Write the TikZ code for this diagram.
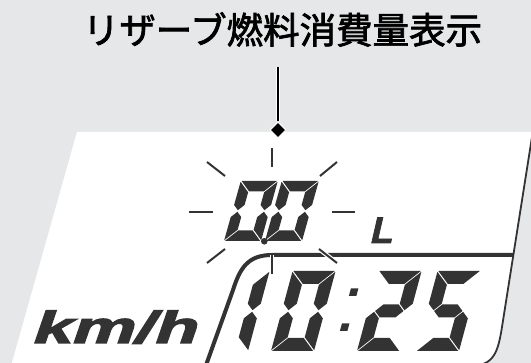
\documentclass[tikz,border=0pt]{standalone}
\usepackage{fontspec}
\usetikzlibrary{shapes.geometric}
\newfontfamily\cjkfont{Noto Sans CJK JP}[FakeBold=2]
\newfontfamily\kmhfont{Liberation Sans}[FakeSlant=0.22,FakeBold=2.5]
\newfontfamily\litfont{Liberation Sans}[FakeSlant=0.23,FakeBold=2]
\definecolor{bg}{HTML}{E6E7E8}
\definecolor{ink}{HTML}{333333}
\def\dgG{0.8}
\def\segA{\fill[ink] (\dgG,-\dgH) -- ({\dgW-\dgG},-\dgH) -- ({\dgW-\dgT-\dgG},{-\dgH+\dgT}) -- ({\dgT+\dgG},{-\dgH+\dgT}) -- cycle;}
\def\segB{\fill[ink] (\dgW,{-(\dgH-\dgG)}) -- ({\dgW-\dgT},{-(\dgH-\dgT-\dgG)}) -- ({\dgW-\dgT},{-(\dgH/2+\dgT/2+\dgG)}) -- ({\dgW-\dgT/2},{-(\dgH/2+\dgG)}) -- (\dgW,{-(\dgH/2+\dgT/2+\dgG)}) -- cycle;}
\def\segC{\fill[ink] (\dgW,{-\dgG}) -- ({\dgW-\dgT},{-(\dgT+\dgG)}) -- ({\dgW-\dgT},{-(\dgH/2-\dgT/2-\dgG)}) -- ({\dgW-\dgT/2},{-(\dgH/2-\dgG)}) -- (\dgW,{-(\dgH/2-\dgT/2-\dgG)}) -- cycle;}
\def\segD{\fill[ink] (\dgG,0) -- ({\dgW-\dgG},0) -- ({\dgW-\dgT-\dgG},{-\dgT}) -- ({\dgT+\dgG},{-\dgT}) -- cycle;}
\def\segE{\fill[ink] (0,{-\dgG}) -- (\dgT,{-(\dgT+\dgG)}) -- (\dgT,{-(\dgH/2-\dgT/2-\dgG)}) -- ({\dgT/2},{-(\dgH/2-\dgG)}) -- (0,{-(\dgH/2-\dgT/2-\dgG)}) -- cycle;}
\def\segF{\fill[ink] (0,{-(\dgH-\dgG)}) -- (\dgT,{-(\dgH-\dgT-\dgG)}) -- (\dgT,{-(\dgH/2+\dgT/2+\dgG)}) -- ({\dgT/2},{-(\dgH/2+\dgG)}) -- (0,{-(\dgH/2+\dgT/2+\dgG)}) -- cycle;}
\def\segG{\fill[ink] ({\dgT/2+\dgG},{-\dgH/2}) -- ({\dgT+\dgG},{-(\dgH/2+\dgT/2)}) -- ({\dgW-\dgT-\dgG},{-(\dgH/2+\dgT/2)}) -- ({\dgW-\dgT/2-\dgG},{-\dgH/2}) -- ({\dgW-\dgT-\dgG},{-(\dgH/2-\dgT/2)}) -- ({\dgT+\dgG},{-(\dgH/2-\dgT/2)}) -- cycle;}
% bx by W H t slant segments
\newcommand\sevenseg[7]{%
  \begin{scope}[shift={(#1,#2)}, xslant=#6]
    \def\dgW{#3}\def\dgH{#4}\def\dgT{#5}%
    \foreach \sgname in {#7}{\csname seg\sgname\endcsname}
  \end{scope}}
\tikzset{
  rayhalo/.style={white, line width=4.4pt},
  ray/.style={ink, line width=2pt},
  panelline/.style={ink, line width=4pt},
  edgeline/.style={ink, line width=1.8pt},
}
\begin{document}
\begin{tikzpicture}[x=1pt,y=-1pt]
\useasboundingbox (0,0) rectangle (531,363);
\fill[bg] (0,0) rectangle (531,363);
\begin{scope}
  \clip (0,0) rectangle (531,363);
  % display panel
  \fill[white] (77,132) -- (533.1,132) -- (502,327) .. controls (498,352) and (494,366) .. (470,366) -- (11,366) -- cycle;
  \draw[edgeline] (533.1,130) -- (502,327) .. controls (498,352) and (494,366) .. (470,366) -- (440,366);
  \draw[panelline] (205,368) -- (233,290) .. controls (240,268) and (248,255) .. (272,255) -- (513.5,255);
\end{scope}
% small digits 0.0
\sevenseg{224}{241}{37}{60}{10.5}{0.28}{A,B,C,D,E,F}
\sevenseg{265}{241}{37}{60}{10.5}{0.28}{A,B,C,D,E,F}
\fill[ink] (264.3,241.3) circle (3.3);
% big digits 10:25
\sevenseg{205}{351}{43}{80}{13}{0.27}{B,C}
\sevenseg{271}{351}{43}{80}{13}{0.27}{A,B,C,D,E,F}
\sevenseg{357}{351}{43}{80}{13}{0.27}{A,B,G,E,D}
\sevenseg{416}{351}{43}{80}{13}{0.27}{A,F,G,C,D}
\begin{scope}[shift={(0,351)}, xslant=0.27]
  \fill[ink] (334,-55) -- (341.5,-55) -- (341.5,-62.5) -- (334,-62.5) -- cycle;
  \fill[ink] (334.5,-20) -- (342,-20) -- (342,-27.5) -- (334.5,-27.5) -- cycle;
\end{scope}
% rays
\foreach \a/\b in {{272,148}/{272,167}, {207,162}/{225,176}, {320,176}/{337,162},
                   {189,212}/{213,212}, {332,212}/{355,212}, {207,263}/{225,249},
                   {319,249}/{337,263}, {272,255}/{272,274}}{
  \draw[rayhalo] (\a) -- (\b);
  \draw[ray] (\a) -- (\b);
}
% texts
\node[font=\kmhfont\bfseries\fontsize{45pt}{50pt}\selectfont, text=ink, inner sep=0, anchor=base west] (kmh) at (30,343) {\scalebox{1.57}[1]{km/h}};
\node[font=\litfont\bfseries\fontsize{37pt}{40pt}\selectfont, text=ink, inner sep=0, anchor=base west] (lit) at (369,243) {L};
\node[font=\cjkfont\fontsize{36.5pt}{40pt}\selectfont, text=black, inner sep=0] (title) at (282.5,29.5) {リザーブ燃料消費量表示};
% connector
\node[diamond, fill=black, draw=white, line width=1pt, minimum size=16pt, inner sep=0] (tip) at (278,130) {};
\coordinate (lstart) at (278,67);
\draw[white, line width=4.6pt] (lstart) -- (tip.north);
\draw[black, line width=2.2pt] (lstart) -- (tip.north);
\end{tikzpicture}
\end{document}
